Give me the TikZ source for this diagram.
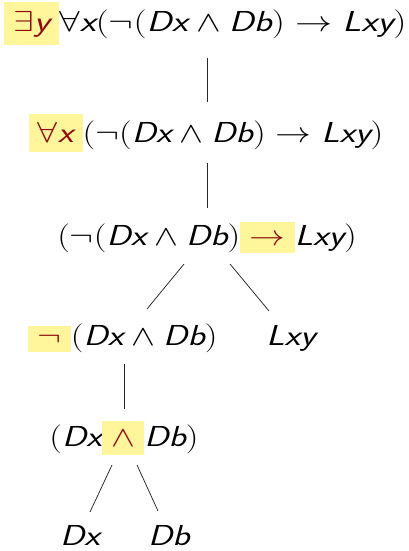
\documentclass[tikz,border=0pt]{standalone}
\usepackage{fix-cm}
\usepackage{graphicx}
\definecolor{hlc}{RGB}{255,245,155}
\definecolor{dred}{RGB}{140,10,10}
\newcommand\V[1]{\mbox{\sffamily\slshape #1}}
\newcommand\hl[3]{{\setlength\fboxsep{0pt}\colorbox{hlc}{\hspace{7.5bp}\color{dred}#3\rule[-#2bp]{0pt}{\dimexpr #1bp + #2bp\relax}\hspace{7.5bp}}}}
\newcommand\wide[2][1.24]{\scalebox{#1}[1]{#2}}
\tikzset{
  row/.style={anchor=base, inner sep=0pt, font=\fontsize{29}{34}\selectfont},
  edge/.style={line width=0.75bp, black!85}
}
\begin{document}
\begin{tikzpicture}[x=1bp,y=-1bp]
\useasboundingbox (0,0) rectangle (408,551);
\node[row] (r1) at (205,32) {\wide[1.28]{$\hl{30}{13}{$\exists\V{y}$}\forall\V{x}(\neg(\V{Dx}\wedge\V{Db})\rightarrow\V{Lxy})$}};
\node[row] (r2) at (206,143) {\wide{$\hl{29}{9}{$\forall\V{x}$}(\neg(\V{Dx}\wedge\V{Db})\rightarrow\V{Lxy})$}};
\node[row] (r3) at (207,245) {\wide{$(\neg(\V{Dx}\wedge\V{Db})\hl{23}{8}{$\rightarrow$}\V{Lxy})$}};
\node[row] (r4) at (123,345) {\wide{$\hl{19}{7}{$\neg$}(\V{Dx}\wedge\V{Db})$}};
\node[row] (r4b) at (291,345) {\wide{$\V{Lxy}$}};
\node[row] (r5) at (124,446) {\wide{$(\V{Dx}\hl{25}{9}{$\wedge$}\V{Db})$}};
\node[row] (r6a) at (80,545) {\wide{$\V{Dx}$}};
\node[row] (r6b) at (169,545) {\wide{$\V{Db}$}};
\coordinate (a1) at (207,58);  \coordinate (a2) at (207,102);
\coordinate (b1) at (207,163); \coordinate (b2) at (207,208);
\coordinate (c1) at (184,264); \coordinate (c2) at (147,309);
\coordinate (d1) at (230,264); \coordinate (d2) at (269,311);
\coordinate (e1) at (124,364); \coordinate (e2) at (124,409);
\coordinate (f1) at (112,465); \coordinate (f2) at (90,512);
\coordinate (g1) at (137,465); \coordinate (g2) at (158,511);
\draw[edge] (a1) -- (a2);
\draw[edge] (b1) -- (b2);
\draw[edge] (c1) -- (c2);
\draw[edge] (d1) -- (d2);
\draw[edge] (e1) -- (e2);
\draw[edge] (f1) -- (f2);
\draw[edge] (g1) -- (g2);
\end{tikzpicture}
\end{document}
